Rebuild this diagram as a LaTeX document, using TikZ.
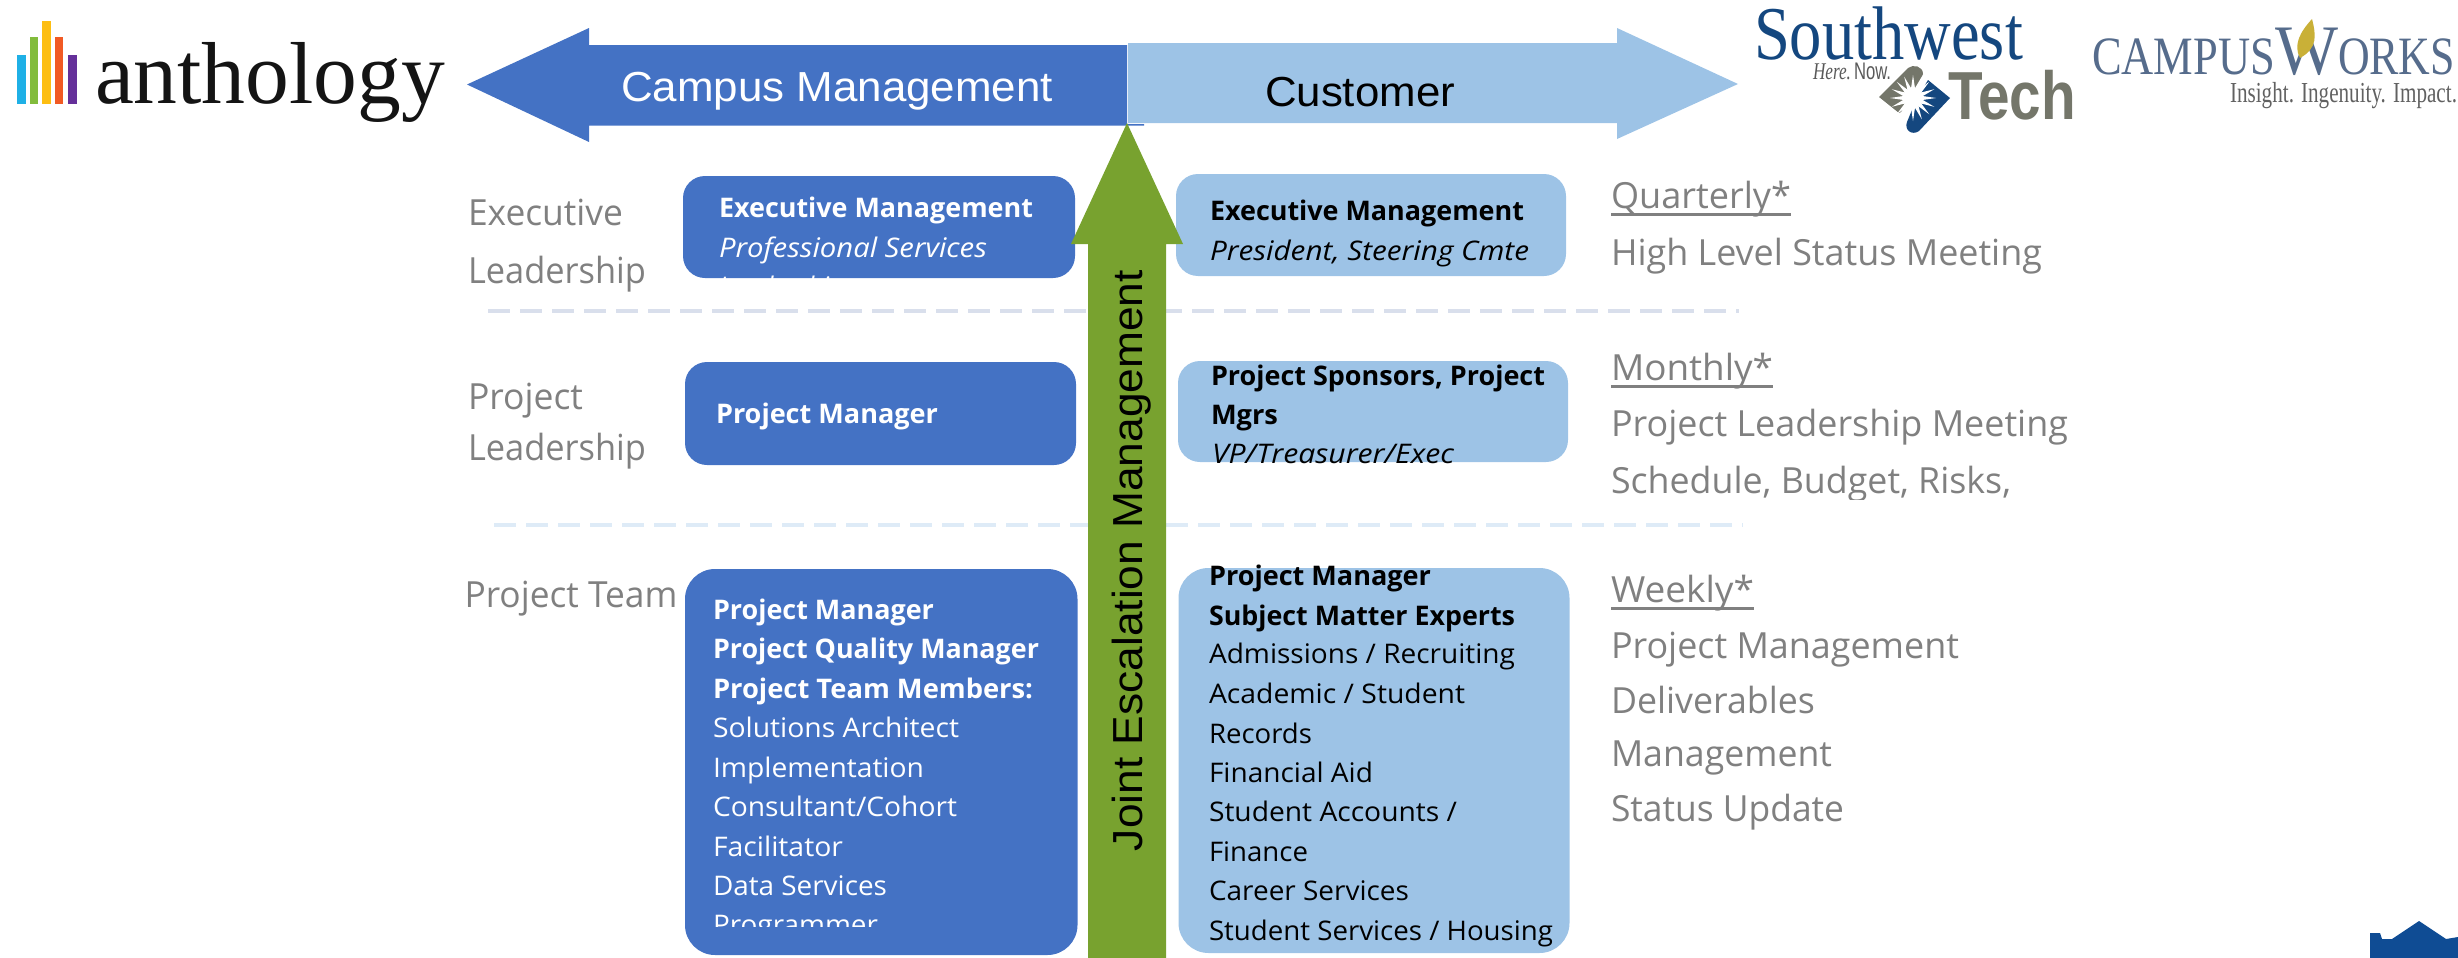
\documentclass[tikz,border=0pt]{standalone}
\usepackage{fontspec}
\usepackage{graphicx}
\setmainfont{Open Sans}
\newfontfamily\arialf{Liberation Sans}
\newfontfamily\timesf{Liberation Serif}
\newlength\pxu \setlength\pxu{.5pt}
\newcommand\fw[2]{\resizebox{#1\pxu}{\height}{#2}}
\definecolor{cmblue}{HTML}{4472C4}
\definecolor{custblue}{HTML}{9DC3E6}
\definecolor{escgreen}{HTML}{78A22F}
\definecolor{graytxt}{HTML}{808080}
\definecolor{swblue}{HTML}{14477F}
\definecolor{swolive}{HTML}{74766A}
\definecolor{cwblue}{HTML}{566C8C}
\definecolor{sepa}{HTML}{D9DFEC}
\definecolor{sepb}{HTML}{DEEBF7}
\definecolor{barblue}{HTML}{1FB0E6}
\definecolor{bargreen}{HTML}{82BC3C}
\definecolor{baryellow}{HTML}{FDBE12}
\definecolor{barorange}{HTML}{F15A24}
\definecolor{barpurple}{HTML}{65309A}
\definecolor{flame}{HTML}{C9B037}
\definecolor{cornerblue}{HTML}{0F4C94}
\tikzset{
  x=.5pt,y=-.5pt,
  txt/.style={anchor=base west,inner sep=0pt,outer sep=0pt},
  graylab/.style={txt,text=graytxt,font=\fontsize{18}{20}\selectfont},
  wbold/.style={txt,text=white,font=\fontsize{13.5}{15}\selectfont\bfseries},
  wreg/.style={txt,text=white,font=\fontsize{13.5}{15}\selectfont},
  wital/.style={txt,text=white,font=\fontsize{13.5}{15}\selectfont\itshape},
  kbold/.style={txt,text=black,font=\fontsize{13.5}{15}\selectfont\bfseries},
  kreg/.style={txt,text=black,font=\fontsize{13.5}{15}\selectfont},
  kital/.style={txt,text=black,font=\fontsize{13.5}{15}\selectfont\itshape},
  bigsans/.style={txt,font=\fontsize{21}{24}\selectfont\arialf},
  leftbox/.style={fill=cmblue,rounded corners=11pt},
  rightbox/.style={fill=custblue,rounded corners=11pt},
  sep/.style={line width=2pt,dash pattern=on 11pt off 5pt},
  ul/.style={fill=graytxt},
}
\begin{document}
\begin{tikzpicture}
\useasboundingbox (0,0) rectangle (2458,958);
% separators
\draw[sep,color=sepa] (488,311) -- (1739,311);
\draw[sep,color=sepb] (494,525) -- (1743,525);
% big arrows
\fill[custblue] (1128,43) -- (1617,43) -- (1617,28) -- (1738,84) -- (1617,139) -- (1617,123) -- (1128,123) -- cycle;
\fill[cmblue] (467,84.5) -- (589,28) -- (589,45) -- (1127,45) -- (1127,124) -- (1144,124) -- (1144,125.5) -- (589,125.5) -- (589,142) -- cycle;
% boxes
\fill[leftbox] (683,176) rectangle (1075,278);
\fill[rightbox] (1176,174) rectangle (1566,276);
\fill[leftbox] (685,362) rectangle (1076,465);
\fill[rightbox] (1178,361) rectangle (1568,462);
\fill[leftbox,rounded corners=15pt] (685,569) rectangle (1077.5,955);
\fill[rightbox,rounded corners=15pt] (1178.5,568) rectangle (1569.5,953);
% green arrow
\fill[escgreen] (1127,123) -- (1183,244) -- (1166,244) -- (1166,958) -- (1088,958) -- (1088,244) -- (1071,244) -- cycle;
% arrow labels
\node[bigsans,text=white] (campus) at (621,101) {\fw{432}{Campus Management}};
\node[bigsans,text=black] (customer) at (1265,106) {\fw{190}{Customer}};
\node[bigsans,text=black,rotate=90] (joint) at (1142,851) {\fw{581}{Joint Escalation Management}};
% left labels
\node[graylab] (l1) at (468,225) {\fw{155}{Executive}};
\node[graylab] (l2) at (468,283) {\fw{178}{Leadership}};
\node[graylab] (l3) at (468,409) {\fw{115}{Project}};
\node[graylab] (l4) at (468,460) {\fw{178}{Leadership}};
\node[graylab] (l5) at (464.5,607) {\fw{213}{Project Team}};
% executive boxes
\node[wbold] (a1) at (719,217) {\fw{314}{Executive Management}};
\node[wital] (a2) at (719,257) {\fw{268}{Professional Services}};
\begin{scope}
\clip (700,250) rectangle (1060,278);
\node[wital] (a3) at (719,296) {\fw{125}{Leadership}};
\end{scope}
\node[kbold] (b1) at (1210,220) {\fw{314}{Executive Management}};
\node[kital] (b2) at (1210,260) {\fw{319}{President, Steering Cmte}};
% project leadership boxes
\node[wbold] (c1) at (716,423) {\fw{222}{Project Manager}};
\node[kbold] (d1) at (1211,385) {\fw{334}{Project Sponsors, Project}};
\node[kbold] (d2) at (1211,424) {\fw{67}{Mgrs}};
\node[kital] (d3) at (1212,463) {\fw{242}{VP/Treasurer/Exec}};
% team box left
\node[wbold] (e1) at (713,619) {\fw{221}{Project Manager}};
\node[wbold] (e2) at (713,658) {\fw{326}{Project Quality Manager}};
\node[wbold] (e3) at (713,698) {\fw{320}{Project Team Members:}};
\node[wreg] (e4) at (713,737) {\fw{246}{Solutions Architect}};
\node[wreg] (e5) at (713,777) {\fw{211}{Implementation}};
\node[wreg] (e6) at (713,816) {\fw{244}{Consultant/Cohort}};
\node[wreg] (e7) at (713,856) {\fw{130}{Facilitator}};
\node[wreg] (e8) at (713,895) {\fw{174}{Data Services}};
\begin{scope}
\clip (700,900) rectangle (1060,926);
\node[wreg] (e9) at (713,934) {\fw{165}{Programmer}};
\end{scope}
% team box right
\node[kbold] (f1) at (1209,585) {\fw{222}{Project Manager}};
\node[kbold] (f2) at (1209,625) {\fw{306}{Subject Matter Experts}};
\node[kreg] (f3) at (1209,663) {\fw{306}{Admissions / Recruiting}};
\node[kreg] (f4) at (1209,703) {\fw{256}{Academic / Student}};
\node[kreg] (f5) at (1209,743) {\fw{103}{Records}};
\node[kreg] (f6) at (1209,782) {\fw{164}{Financial Aid}};
\node[kreg] (f7) at (1209,821) {\fw{248}{Student Accounts /}};
\node[kreg] (f8) at (1209,861) {\fw{99}{Finance}};
\node[kreg] (f9) at (1209,900) {\fw{200}{Career Services}};
\node[kreg] (f10) at (1209,940) {\fw{344}{Student Services / Housing}};
% right column
\node[graylab] (q1) at (1611,208) {\fw{180}{Quarterly*}};
\fill[ul] (1611,213) rectangle (1791,216);
\node[graylab] (q2) at (1611,265) {\fw{431}{High Level Status Meeting}};
\node[graylab] (m1) at (1611,380) {\fw{162}{Monthly*}};
\fill[ul] (1611,385) rectangle (1773,388);
\node[graylab] (m2) at (1611,436) {\fw{457}{Project Leadership Meeting}};
\begin{scope}
\clip (1600,450) rectangle (2100,499);
\node[graylab] (m3) at (1611,493) {\fw{400}{Schedule, Budget, Risks,}};
\end{scope}
\node[graylab] (w1) at (1611,602) {\fw{143}{Weekly*}};
\fill[ul] (1611,607) rectangle (1754,610);
\node[graylab] (w2) at (1611,658) {\fw{348}{Project Management}};
\node[graylab] (w3) at (1611,713) {\fw{204}{Deliverables}};
\node[graylab] (w4) at (1611,766) {\fw{221}{Management}};
\node[graylab] (w5) at (1611,821) {\fw{233}{Status Update}};
% anthology logo
\fill[barblue] (17,55) rectangle (26,104);
\fill[bargreen] (30,37) rectangle (38,104);
\fill[baryellow] (42,21) rectangle (51,104);
\fill[barorange] (55,37) rectangle (63,104);
\fill[barpurple] (68,55) rectangle (77,104);
\node[txt,text=black!92,font=\fontsize{44}{48}\selectfont\timesf] (anth) at (95,103) {\fw{350}{anthology}};
% Southwest Tech logo
\node[txt,text=swblue,font=\fontsize{38}{40}\selectfont\timesf] (sw) at (1754,60) {\fw{269}{Southwest}};
\node[txt,text=black!65,font=\fontsize{12}{14}\selectfont\timesf\itshape] (here) at (1813,79) {\fw{38}{Here.}};
\node[txt,text=black!65,font=\fontsize{12}{14}\selectfont\arialf] (now) at (1854,79) {\fw{37}{Now.}};
\node[txt,text=swolive,font=\fontsize{34}{38}\selectfont\arialf\bfseries] (tech) at (1948,119) {\fw{128}{Tech}};
\fill[swolive] (1879,97) -- (1908,68) .. controls (1913,64) and (1923,66) .. (1923,74) -- (1915,90) -- (1901,112) -- (1899,113) -- cycle;
\fill[swblue] (1950,98) -- (1928,80) -- (1916,100) -- (1907,122) .. controls (1904,130) and (1912,136) .. (1919,131) -- cycle;
\fill[white] plot[samples at={0,...,31},variable=\k] ({1913+(mod(\k,2)==0 ? 23 : 10)*cos(\k*11.25)},{98+(mod(\k,2)==0 ? 23 : 10)*sin(\k*11.25)}) -- cycle;
% CampusWorks logo
\node[txt,text=cwblue,font=\fontsize{27}{30}\selectfont\timesf] (cw1) at (2092,74) {\fw{183}{CAMPUS}};
\node[txt,text=cwblue,font=\fontsize{35.5}{38}\selectfont\timesf] (cw2) at (2275,75) {\fw{63}{W}};
\node[txt,text=cwblue,font=\fontsize{27}{30}\selectfont\timesf] (cw3) at (2338,74) {\fw{117}{ORKS}};
\fill[flame] (2312,19) .. controls (2316,35) and (2318,48) .. (2300,58) .. controls (2293,45) and (2300,32) .. (2312,19) -- cycle;
\node[txt,text=black!62,font=\fontsize{14.5}{16}\selectfont\timesf] (cw4) at (2230,103) {\fw{227}{Insight. Ingenuity. Impact.}};
% corner shape
\fill[cornerblue] (2370,933) -- (2380,933) -- (2382,939) -- (2392,939) -- (2419,921) -- (2446,939) -- (2458,937) -- (2458,958) -- (2370,958) -- cycle;
\end{tikzpicture}
\end{document}
